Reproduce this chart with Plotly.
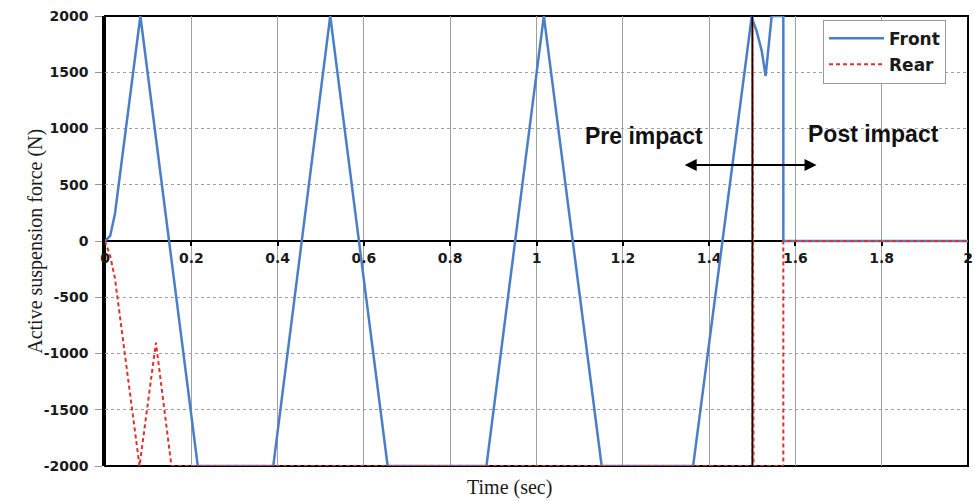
import plotly.graph_objects as go

# ---- data ----
front_t = [0, 0.012, 0.023, 0.082, 0.215, 0.39, 0.522, 0.655, 0.884, 1.017, 1.151,
           1.363, 1.499, 1.503, 1.510, 1.522, 1.531, 1.545, 1.572, 1.572, 2.0]
front_f = [0, 45, 240, 2000, -2000, -2000, 2000, -2000, -2000, 2000, -2000,
           -2000, 2000, 1940, 1867, 1689, 1467, 2000, 2000, 0, 0]

rear_t = [0, 0.012, 0.023, 0.080, 0.118, 0.154, 1.501, 1.501, 1.503, 1.572, 1.572, 2.0]
rear_f = [0, -133, -330, -2000, -904, -2000, -2000, 1950, -2000, -2000, 0, 0]

x_ticks = [0, 0.2, 0.4, 0.6, 0.8, 1.0, 1.2, 1.4, 1.6, 1.8, 2.0]
x_tick_labels = ["0", "0.2", "0.4", "0.6", "0.8", "1", "1.2", "1.4", "1.6", "1.8", "2"]
y_ticks = [2000, 1500, 1000, 500, 0, -500, -1000, -1500, -2000]
y_tick_labels = ["2000", "1500", "1000", "500", "0", "-500", "-1000", "-1500", "-2000"]

impact_time = 1.5
arrow_from, arrow_to, arrow_level = 1.340, 1.649, 676
pre_label = ("Pre impact", 1.249, 933)
post_label = ("Post impact", 1.780, 951)

BLUE = "#4a7fc8"
RED = "#e0302a"
TICKFONT = dict(family="DejaVu Sans", size=14, color="#1a1a1a")

fig = go.Figure()
fig.add_trace(go.Scatter(x=front_t, y=front_f, mode="lines", name="Front",
                         legendgroup="a",
                         line=dict(color=BLUE, width=2.5)))
fig.add_trace(go.Scatter(x=rear_t, y=rear_f, mode="lines", name="Rear",
                         legendgroup="b",
                         line=dict(color=RED, width=2, dash="4px,3px")))

fig.update_layout(
    width=975, height=501,
    margin=dict(l=105, r=7, t=16, b=35),
    paper_bgcolor="white", plot_bgcolor="white",
    showlegend=True,
    legend=dict(x=0.832, y=0.992, xanchor="left", yanchor="top",
                bordercolor="#999999", borderwidth=1, bgcolor="white",
                font=dict(family="DejaVu Sans", size=17, color="#1a1a1a", weight="bold"),
                tracegroupgap=1, itemwidth=55),
    xaxis=dict(range=[0, 2], tickvals=x_ticks, ticktext=x_tick_labels,
               anchor="free", position=0.5, side="bottom",
               showline=True, linecolor="black", linewidth=2,
               ticks="outside", ticklen=4, tickcolor="black", tickwidth=2,
               tickfont=dict(**TICKFONT, weight="bold"),
               showgrid=True, gridcolor="#a0a0a0", gridwidth=1,
               zeroline=False, automargin=False, layer="below traces"),
    yaxis=dict(range=[-2000, 2000], tickvals=y_ticks, ticktext=y_tick_labels,
               showline=True, linecolor="black", linewidth=2.5,
               ticks="outside", ticklen=7, tickcolor="#999999",
               ticklabelstandoff=4,
               tickfont=dict(**TICKFONT, weight="bold"),
               showgrid=True, gridcolor="#a0a0a0", gridwidth=1, griddash="dot",
               zeroline=False, automargin=False, layer="below traces"),
)

# plot frame
fig.add_shape(type="rect", xref="paper", yref="paper", x0=0, x1=1, y0=0, y1=1,
              line=dict(color="black", width=2), layer="between")
# impact line
fig.add_shape(type="line", xref="x", yref="y", x0=impact_time, x1=impact_time,
              y0=-2000, y1=2000, line=dict(color="black", width=1.5), layer="above")

# double-headed arrow
fig.add_annotation(x=arrow_to, y=arrow_level, ax=arrow_from, ay=arrow_level,
                   xref="x", yref="y", axref="x", ayref="y", text="",
                   showarrow=True, arrowhead=2, arrowsize=1.2, arrowwidth=2,
                   arrowcolor="black", arrowside="end+start",
                   startarrowhead=2, startarrowsize=1.2)

for txt, xx, yy in (pre_label, post_label):
    fig.add_annotation(x=xx, y=yy, xref="x", yref="y", text=txt, showarrow=False,
                       font=dict(family="Liberation Sans", size=23, color="#111111",
                                 weight="bold"))

# axis titles
fig.add_annotation(x=-0.097, y=0.5, xref="paper", yref="paper",
                   text="Active suspension force (N)", textangle=-90, showarrow=False,
                   font=dict(family="Liberation Serif", size=20, color="#1a1a1a"))
fig.add_annotation(x=0.469, y=-0.0467, xref="paper", yref="paper",
                   text="Time (sec)", showarrow=False, yanchor="middle",
                   font=dict(family="Liberation Serif", size=20, color="#1a1a1a"))

fig.write_html("out.html")
